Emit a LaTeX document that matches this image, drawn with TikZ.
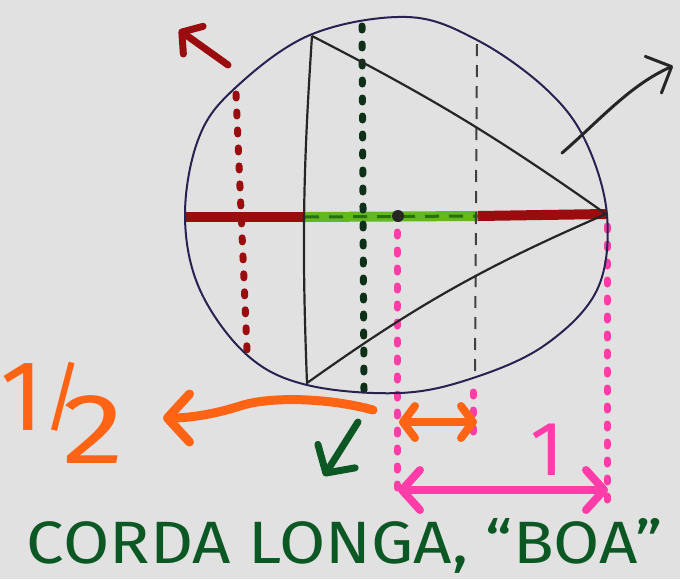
\documentclass[tikz,border=0pt]{standalone}
\usepackage{fontspec}
\newfontfamily\handfont{Fira Sans}
\usepackage{tikz}
\usetikzlibrary{arrows.meta,positioning,calc}
\definecolor{paper}{RGB}{225,225,225}
\definecolor{inkblue}{RGB}{40,34,80}
\definecolor{darkred}{RGB}{155,12,14}
\definecolor{leafgreen}{RGB}{98,184,30}
\definecolor{leafdark}{RGB}{40,110,20}
\definecolor{pinkink}{RGB}{255,60,168}
\definecolor{orangeink}{RGB}{255,100,20}
\definecolor{textgreen}{RGB}{12,88,36}
\definecolor{dotgreen}{RGB}{14,48,24}
\tikzset{
  outline/.style={draw=inkblue,line width=2pt},
  tri/.style={draw=black!85,line width=2.2pt,line join=round},
  diam/.style={line width=10pt,color=darkred},
  dotline/.style={line width=7pt,line cap=round,dash pattern=on 4pt off 14pt},
  thindash/.style={line width=2pt,color=black!75,dash pattern=on 12pt off 9pt},
  arr/.style={line width=#1,line cap=round,line join=round},
  hand/.style={font=\handfont,inner sep=0pt}
}

\begin{document}
\begin{tikzpicture}[x=1pt,y=-1pt]
  \useasboundingbox (0,0) rectangle (680,579);
  \fill[paper] (0,0) rectangle (680,579);
  % points on the circle and triangle
  \coordinate (L) at (185,217);
  \coordinate (R) at (606,214);
  \coordinate (A) at (312,36);
  \coordinate (B) at (307,383);
  \coordinate (gL) at (305,217);
  \coordinate (gR) at (478,216);
  \coordinate (mid) at (398,216);
  % diameter
  \draw[diam] (L) -- (gL);
  \draw[diam] (gR) -- (R);
  \draw[diam,leafgreen] (gL) -- (gR);
  \draw[line width=3pt,leafdark,dash pattern=on 14pt off 10pt] (gL) -- (gR);
  % vertical guides
  \coordinate (rt) at (236,94);  \coordinate (rb) at (247,350);
  \coordinate (kt) at (362,26);  \coordinate (kb) at (364,390);
  \coordinate (pt) at (397,232); \coordinate (pb) at (397,497);
  \coordinate (qt) at (607,226); \coordinate (qb) at (607,507);
  \coordinate (st) at (473,392); \coordinate (sb) at (473,440);
  \coordinate (dt) at (477,44);  \coordinate (db) at (475,376);
  \foreach \a/\b/\c in {rt/rb/darkred,kt/kb/dotgreen,pt/pb/pinkink,qt/qb/pinkink,st/sb/pinkink}
    \draw[dotline,\c] (\a) -- (\b);
  \draw[thindash] (dt) -- (db);
  % circle
  \draw[outline] plot[smooth cycle,tension=0.6] coordinates {(185,217) (198,140) (233,90) (310,35) (407,17) (477,40) (545,88) (585,140) (607,215) (597,290) (545,345) (473,378) (400,393) (307,385) (247,355) (200,290)};
  % triangle
  \draw[tri] (A) to[bend right=3] (B) to[bend left=6] (R) to[bend right=4] (A);
  \fill[black!85] (mid) circle (6pt);
  % arrows
  \coordinate (r1) at (228,65);  \coordinate (r2) at (179,30);
  \coordinate (b1) at (562,153); \coordinate (b2) at (673,66);
  \coordinate (o1) at (373,410); \coordinate (o2) at (163,418);
  \coordinate (g1) at (358,422); \coordinate (g2) at (324,476);
  \coordinate (h1) at (399,422); \coordinate (h2) at (477,422);
  \coordinate (m1) at (398,490); \coordinate (m2) at (608,490);
  \draw[arr=7pt,darkred,-{Straight Barb[length=14pt,width=34pt,round]}] (r1) -- (r2);
  \draw[arr=3pt,black!85,-{Straight Barb[length=20pt,width=40pt,round]}] (b1) .. controls (600,120) and (630,85) .. (b2);
  \draw[arr=9pt,orangeink,-{Straight Barb[length=22pt,width=48pt,round]}] (o1) .. controls (330,398) and (270,396) .. (240,406) .. controls (215,414) and (190,418) .. (o2);
  \draw[arr=7pt,textgreen,-{Straight Barb[length=20pt,width=44pt,round]}] (g1) -- (g2);
  \draw[arr=8pt,orangeink,{Straight Barb[length=12pt,width=32pt,round]}-{Straight Barb[length=12pt,width=32pt,round]}] (h1) -- (h2);
  \draw[arr=8pt,pinkink,{Straight Barb[length=18pt,width=40pt,round]}-{Straight Barb[length=18pt,width=40pt,round]}] (m1) -- (m2);
  % labels
  \node[hand,pinkink,anchor=base,font=\handfont\fontsize{77}{77}\selectfont] (one) at (547,475) {1};
  \node[hand,orangeink,anchor=base west,font=\handfont\fontsize{100}{100}\selectfont] (half) at (0,463)
    {\rlap{\raisebox{33pt}{\fontsize{100}{100}\selectfont 1}}\rlap{\hspace*{43pt}\raisebox{40pt}{\fontsize{76}{76}\selectfont /}}\hspace*{62pt}\scalebox{1.25}[1]{2}};
  \node[hand,textgreen,anchor=base] (title) at (345,563) {\resizebox{636pt}{45pt}{CORDA LONGA, “BOA”}};
\end{tikzpicture}
\end{document}
